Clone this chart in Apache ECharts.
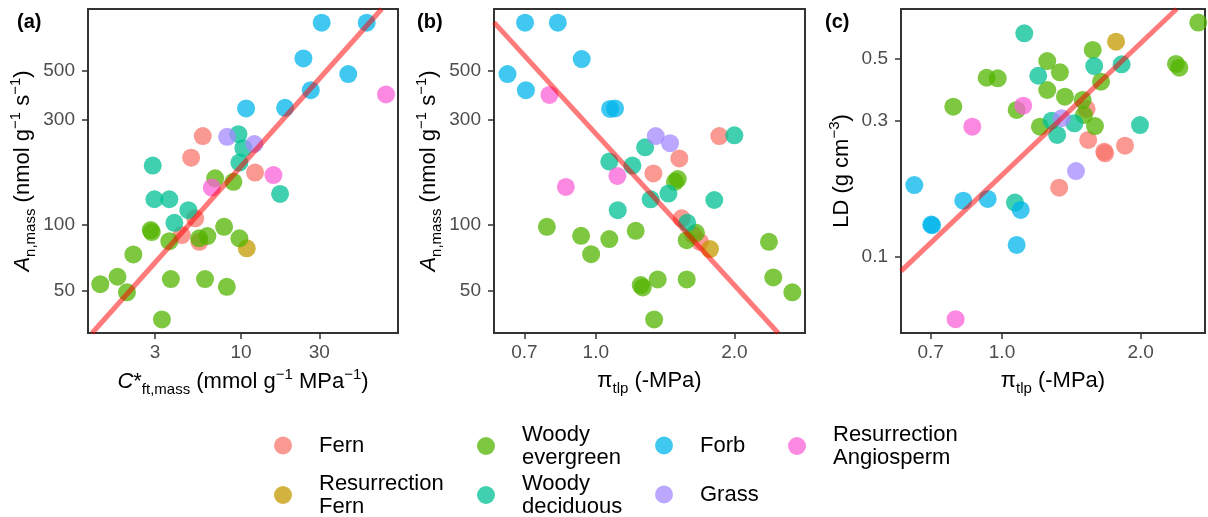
<!DOCTYPE html>
<html>
<head>
<meta charset="utf-8">
<script src="https://cdn.jsdelivr.net/npm/echarts@6/dist/echarts.min.js"></script>
<style>
html, body { margin: 0; padding: 0; background: #fff; }
#main { width: 1208px; height: 517px; }
</style>
</head>
<body>
<div id="main"></div>
<script>
// plant groups (codes used below: 0..6 in this order)
var groups = ['Fern', 'Resurrection Fern', 'Woody evergreen', 'Woody deciduous', 'Forb', 'Grass', 'Resurrection Angiosperm'];
var groupLabels = ['Fern', 'Resurrection\nFern', 'Woody\nevergreen', 'Woody\ndeciduous', 'Forb', 'Grass', 'Resurrection\nAngiosperm'];
var groupColors = ['#F8766D', '#C49A00', '#53B400', '#00C094', '#00B6EB', '#A58AFF', '#FB61D7'];

// (a) C*ft,mass vs An,mass
var cftA = [31.0, 58.3, 24.0, 45.0, 26.6, 76.4, 10.74, 18.55, 5.85, 8.23, 9.64, 12.06, 10.34, 4.97, 2.90, 9.78, 12.18, 15.75, 6.96, 8.99, 6.64, 17.3, 2.97, 3.66, 4.78, 5.26, 3.93, 2.82, 2.86, 4.36, 3.66, 5.56, 5.58, 6.24, 7.89, 9.78, 10.84, 2.21, 1.77, 1.39, 2.02, 3.74, 6.04, 8.20, 3.30];
var anA = [827, 827, 569, 483, 408, 390, 337, 339, 252, 250, 257, 232, 222, 201, 185, 191, 172, 167.5, 162, 156, 147, 137.5, 130, 130, 116, 106.4, 101.6, 94.1, 92.2, 89.3, 83.8, 86.3, 83.2, 88.4, 97.4, 86.3, 77.7, 72.9, 57.7, 53.4, 49.0, 56.3, 56.3, 51.9, 36.9];
var grpA = [4,4,4,4,4,6,4,4, 0,5,3,5,3,0,3,3, 0,6,2,2,6,3,3,3, 3,0,3,2,2,0,2,2, 0,2,2,2,1,2,2,2, 2,2,2,2,2];

// (b) turgor loss point vs An,mass
var tlpB = [0.702, 0.827, 0.932, 0.643, 0.705, 0.793, 1.074, 1.101, 1.350, 2.0, 1.855, 1.450, 1.280, 1.519, 1.070, 1.201, 1.334, 1.114, 1.486, 1.507, 0.861, 1.316, 1.438, 1.809, 1.116, 1.537, 1.58, 0.783, 0.929, 1.070, 1.221, 1.629, 1.651, 1.576, 1.685, 1.771, 0.977, 1.252, 1.265, 1.363, 1.576, 1.339, 2.378, 2.430, 2.673];
var anB = [827, 827, 565, 483, 408, 388, 335, 337, 252, 254, 252, 234, 224, 199.5, 193, 185, 170.5, 166, 156, 160.6, 148, 129.9, 138, 129, 116, 106.4, 101.6, 97.4, 88.6, 85.6, 93.4, 89.3, 91.5, 84.7, 83.2, 77.1, 73.1, 52.9, 51.6, 56.1, 56.1, 36.9, 83.2, 57.3, 49.0];
var grpB = [4,4,4,4,4,6,4,4, 5,3,0,5,3,0,3,3, 0,6,2,2,6,3,3,3, 3,0,3,2,2,2,2,0, 2,2,0,1,2,2,2,2, 2,2,2,2,2];

// (c) turgor loss point vs leaf density
var tlpC = [2.669, 1.118, 1.769, 1.574, 1.254, 1.586, 1.819, 2.387, 2.427, 1.336, 1.199, 0.926, 0.979, 1.641, 1.254, 1.370, 0.784, 1.112, 1.076, 1.497, 1.527, 1.507, 1.348, 1.282, 1.436, 1.209, 1.592, 1.994, 0.862, 1.318, 1.539, 1.850, 1.668, 1.674, 1.448, 1.331, 0.645, 0.824, 0.931, 1.067, 1.098, 0.702, 0.705, 1.076, 0.793];
var ldC = [0.668, 0.6125, 0.572, 0.535, 0.489, 0.4695, 0.476, 0.4775, 0.4633, 0.4463, 0.434, 0.427, 0.425, 0.4136, 0.3866, 0.3663, 0.3377, 0.3404, 0.3287, 0.3565, 0.3314, 0.3156, 0.3074, 0.3014, 0.2951, 0.287, 0.2886, 0.2909, 0.287, 0.2684, 0.2577, 0.246, 0.2344, 0.2313, 0.2003, 0.175, 0.1788, 0.1575, 0.1597, 0.155, 0.146, 0.1297, 0.129, 0.1099, 0.0602];
var grpC = [2,3,1,2,2,3,3,2,2,2, 3,2,2,2,2,2,2,6,2,2, 0,2,5,3,3,2,2,3,6,3, 0,0,0,0,5,0,4,4,4,3, 4,4,4,4,6];

// fitted lines (log-log), end points
var fitA = [[1.24, 32], [71.9, 955]];
var fitB = [[0.601, 830], [2.49, 32]];
var fitC = [[0.6035, 0.0889], [2.395, 0.746]];

// tick values
var ticksAx = [3, 10, 30];
var ticksAy = [50, 100, 300, 500];
var ticksTlp = [0.7, 1.0, 2.0];
var ticksCy = [0.1, 0.3, 0.5];

var FONT = 'Liberation Sans, Arial, sans-serif';

var dom = document.getElementById('main');
var myChart = echarts.init(dom);

function pointSeries(xs, ys, gs, idx) {
    return groups.map(function (name, g) {
        var pts = [];
        for (var i = 0; i < xs.length; i++) {
            if (gs[i] === g) pts.push([xs[i], ys[i]]);
        }
        return {
            name: name,
            type: 'scatter',
            xAxisIndex: idx,
            yAxisIndex: idx,
            symbolSize: 18,
            itemStyle: { color: groupColors[g], opacity: 0.75 },
            emphasis: { disabled: true },
            data: pts,
            z: 2
        };
    });
}

function fitSeries(pts, idx) {
    return {
        type: 'line',
        xAxisIndex: idx,
        yAxisIndex: idx,
        data: pts,
        symbol: 'none',
        silent: true,
        lineStyle: { color: 'rgba(255,0,0,0.52)', width: 5 },
        z: 3
    };
}

var nameRich = {
    t: { fontSize: 22, color: '#000', fontFamily: FONT, lineHeight: 30, verticalAlign: 'middle' },
    it: { fontSize: 22, color: '#000', fontFamily: FONT, fontStyle: 'italic', lineHeight: 30, verticalAlign: 'middle' },
    sub: { fontSize: 15, color: '#000', fontFamily: FONT, lineHeight: 30, verticalAlign: 'bottom' },
    sup: { fontSize: 15, color: '#000', fontFamily: FONT, lineHeight: 30, verticalAlign: 'top' }
};

function logAxis(idx, min, max, ticks, fmt, name, gap, isY) {
    return {
        type: 'log',
        logBase: 10,
        gridIndex: idx,
        min: min,
        max: max,
        axisLine: { show: false },
        splitLine: { show: false },
        minorTick: { show: false },
        minorSplitLine: { show: false },
        axisTick: { show: true, length: 6, lineStyle: { color: '#333', width: 1.5 }, customValues: ticks },
        axisLabel: {
            customValues: ticks,
            formatter: fmt,
            fontSize: 19,
            color: '#4d4d4d',
            fontFamily: FONT,
            margin: isY ? 13 : 10
        },
        name: name,
        nameLocation: 'middle',
        nameGap: gap,
        nameRotate: isY ? 90 : 0,
        nameTextStyle: { fontSize: 22, color: '#000', fontFamily: FONT, rich: nameRich }
    };
}

function intFmt(v) { return String(Math.round(v)); }
function oneFmt(v) { return (Math.round(v * 10) / 10).toFixed(1); }

var anName = '{it|A}{sub|n,mass}{t| (nmol g}{sup|−1}{t| s}{sup|−1}{t|)}';
var cftName = '{it|C}{t|*}{sub|ft,mass}{t| (mmol g}{sup|−1}{t| MPa}{sup|−1}{t|)}';
var tlpName = '{t|π}{sub|tlp}{t| (-MPa)}';
var ldName = '{t|LD (g cm}{sup|−3}{t|)}';

// legend: 4 columns x 2 rows, one legend per entry (x = icon centre)
var legendPos = [
    { x: 283, y: 446 }, { x: 283, y: 495 },
    { x: 486, y: 446 }, { x: 486, y: 495 },
    { x: 664, y: 446 }, { x: 664, y: 495 },
    { x: 797, y: 446 }
];
var legends = groups.map(function (name, g) {
    var twoLine = groupLabels[g].indexOf('\n') >= 0;
    return {
        data: [name],
        left: legendPos[g].x - 9,
        top: legendPos[g].y - (twoLine ? 23 : 12),
        padding: 0,
        icon: 'circle',
        itemWidth: 62,
        itemHeight: 18,
        selectedMode: false,
        itemStyle: { opacity: 0.75 },
        formatter: function () { return groupLabels[g]; },
        textStyle: { fontSize: 22, lineHeight: 23, color: '#000', fontFamily: FONT }
    };
});

var gridBase = { show: true, borderColor: '#333', borderWidth: 2, backgroundColor: 'transparent', containLabel: false };
var tagStyle = { fontSize: 20, fontWeight: 'bold', color: '#000', fontFamily: FONT };

myChart.setOption({
    animation: false,
    textStyle: { fontFamily: FONT },
    title: [
        { text: '(a)', left: 17, top: 12, padding: 0, textStyle: tagStyle },
        { text: '(b)', left: 417, top: 12, padding: 0, textStyle: tagStyle },
        { text: '(c)', left: 825, top: 12, padding: 0, textStyle: tagStyle }
    ],
    legend: legends,
    grid: [
        Object.assign({ left: 88, top: 9, width: 310, height: 324 }, gridBase),
        Object.assign({ left: 494, top: 9, width: 311, height: 324 }, gridBase),
        Object.assign({ left: 901, top: 9, width: 304, height: 324 }, gridBase)
    ],
    xAxis: [
        logAxis(0, 1.17, 90.4, ticksAx, intFmt, cftName, 33, false),
        logAxis(1, 0.601, 2.848, ticksTlp, oneFmt, tlpName, 33, false),
        logAxis(2, 0.6035, 2.76, ticksTlp, oneFmt, tlpName, 33, false)
    ],
    yAxis: [
        logAxis(0, 32, 955, ticksAy, intFmt, anName, 50, true),
        logAxis(1, 32, 955, ticksAy, intFmt, anName, 50, true),
        logAxis(2, 0.0538, 0.746, ticksCy, oneFmt, ldName, 44, true)
    ],
    series: [].concat(
        pointSeries(cftA, anA, grpA, 0),
        pointSeries(tlpB, anB, grpB, 1),
        pointSeries(tlpC, ldC, grpC, 2),
        [fitSeries(fitA, 0), fitSeries(fitB, 1), fitSeries(fitC, 2)]
    )
});

window.onresize = function () {
    myChart.resize();
};
</script>
</body>
</html>
